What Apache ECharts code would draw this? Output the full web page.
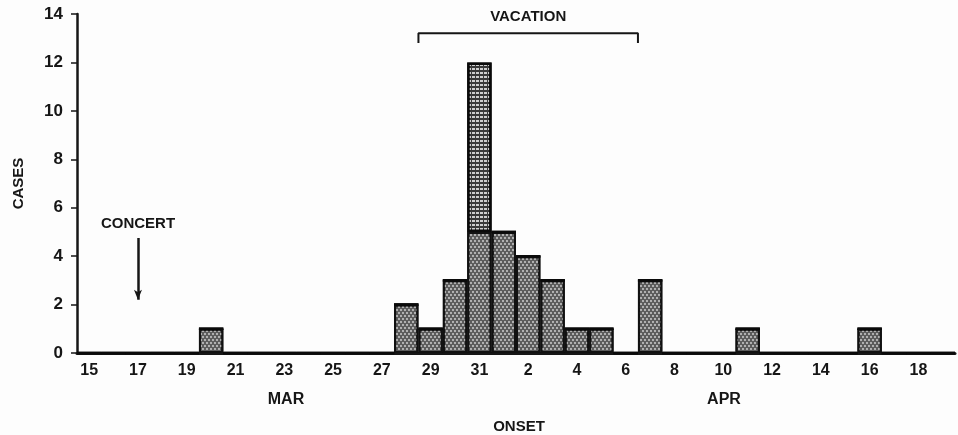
<!DOCTYPE html>
<html lang="en">

<head>
    <meta charset="UTF-8">
    <title>onset curve</title>
    <style>
        html, body { margin: 0; padding: 0; background: #fdfdfd; }
    </style>
</head>

<body>
    <div id="main" style="width:958px;height:435px;"></div>
</body>
<script src="https://cdn.jsdelivr.net/npm/echarts@6/dist/echarts.min.js"></script>
<script>
    // days of onset, Mar 15 - Apr 19
    var days = ['Mar 15', 'Mar 16', 'Mar 17', 'Mar 18', 'Mar 19', 'Mar 20', 'Mar 21', 'Mar 22', 'Mar 23',
        'Mar 24', 'Mar 25', 'Mar 26', 'Mar 27', 'Mar 28', 'Mar 29', 'Mar 30', 'Mar 31',
        'Apr 1', 'Apr 2', 'Apr 3', 'Apr 4', 'Apr 5', 'Apr 6', 'Apr 7', 'Apr 8', 'Apr 9', 'Apr 10',
        'Apr 11', 'Apr 12', 'Apr 13', 'Apr 14', 'Apr 15', 'Apr 16', 'Apr 17', 'Apr 18', 'Apr 19'];
    // cases per day (lower block)
    var cases = [0, 0, 0, 0, 0, 1, 0, 0, 0, 0, 0, 0, 0, 2, 1, 3, 5,
        5, 4, 3, 1, 1, 0, 3, 0, 0, 0, 1, 0, 0, 0, 0, 1, 0, 0, 0];
    // upper block of the Mar 31 column
    var peakCases = [0, 0, 0, 0, 0, 0, 0, 0, 0, 0, 0, 0, 0, 0, 0, 0, 7,
        0, 0, 0, 0, 0, 0, 0, 0, 0, 0, 0, 0, 0, 0, 0, 0, 0, 0, 0];
    var yTicks = [0, 2, 4, 6, 8, 10, 12, 14];

    var concertDay = 'Mar 17';
    var vacationFrom = 'Mar 29';
    var vacationTo = 'Apr 6';

    var font = 'Liberation Sans';
    var ink = '#161616';

    var vStart = days.indexOf(vacationFrom);
    var vEnd = days.indexOf(vacationTo) + 1;

    var myChart = echarts.init(document.getElementById('main'));
    var option = {
        animation: false,
        backgroundColor: '#fdfdfd',
        grid: { left: 77, right: 3, top: 14, bottom: 82 },
        xAxis: [{
            type: 'category',
            data: days,
            axisLine: { lineStyle: { color: ink, width: 3 } },
            axisTick: { interval: 0, length: 5, lineStyle: { color: ink, width: 2 } },
            axisLabel: {
                interval: 1,
                margin: 10,
                color: ink,
                fontFamily: font,
                fontWeight: 'bold',
                fontSize: 16,
                formatter: function (v) { return v.split(' ')[1]; }
            },
            splitLine: { show: false }
        }, {
            type: 'value',
            min: 0,
            max: days.length,
            show: false
        }],
        yAxis: {
            type: 'value',
            min: yTicks[0],
            max: yTicks[yTicks.length - 1],
            interval: 2,
            name: 'CASES',
            nameLocation: 'middle',
            nameRotate: 90,
            nameGap: 51,
            nameTextStyle: { color: ink, fontFamily: font, fontWeight: 'bold', fontSize: 15 },
            axisLine: { show: true, lineStyle: { color: ink, width: 2.5 } },
            axisTick: { show: true, length: 6, lineStyle: { color: ink, width: 1.5 } },
            axisLabel: { color: ink, fontFamily: font, fontWeight: 'bold', fontSize: 17, margin: 14 },
            splitLine: { show: false }
        },
        series: [{
            name: 'cases',
            type: 'bar',
            stack: 'day',
            data: cases,
            barCategoryGap: '0%',
            itemStyle: {
                color: '#5c5c5c',
                borderColor: '#111',
                borderWidth: 2,
                decal: {
                    symbol: 'circle',
                    symbolSize: 0.9,
                    dashArrayX: [[2, 2], [0, 2, 2, 0]],
                    dashArrayY: [2, 1],
                    color: '#d8d8d8'
                }
            },
            markLine: {
                silent: true,
                symbol: ['none', 'arrow'],
                symbolSize: [6, 10],
                lineStyle: { color: ink, width: 2.5, type: 'solid' },
                label: {
                    show: true,
                    position: 'start',
                    distance: 7,
                    formatter: 'CONCERT',
                    color: ink,
                    fontFamily: font,
                    fontWeight: 'bold',
                    fontSize: 15
                },
                data: [[{ coord: [concertDay, 4.75] }, { coord: [concertDay, 2.2] }]]
            }
        }, {
            name: 'peak',
            type: 'bar',
            stack: 'day',
            data: peakCases,
            barCategoryGap: '0%',
            itemStyle: {
                color: '#3a3a3a',
                borderColor: '#0a0a0a',
                borderWidth: 2.5,
                decal: {
                    symbol: 'rect',
                    symbolSize: 1,
                    dashArrayX: [3, 1],
                    dashArrayY: [2, 2],
                    color: '#cfcfcf'
                }
            }
        }, {
            name: 'vacation',
            type: 'line',
            xAxisIndex: 1,
            data: [[vStart, 12.8], [vStart, 13.2], [vEnd, 13.2], [vEnd, 12.8]],
            showSymbol: false,
            symbol: 'none',
            lineStyle: { color: ink, width: 2 },
            markPoint: {
                symbol: 'circle',
                symbolSize: 0,
                label: {
                    show: true,
                    position: 'top',
                    distance: 9,
                    formatter: 'VACATION',
                    color: ink,
                    fontFamily: font,
                    fontWeight: 'bold',
                    fontSize: 15
                },
                data: [{ coord: [(vStart + vEnd) / 2, 13.2] }]
            }
        }],
        graphic: [
            { type: 'text', x: 286, y: 400, style: { text: 'MAR', fill: ink, font: 'bold 16px ' + font, align: 'center', verticalAlign: 'middle' } },
            { type: 'text', x: 724, y: 400, style: { text: 'APR', fill: ink, font: 'bold 16px ' + font, align: 'center', verticalAlign: 'middle' } },
            { type: 'text', x: 519, y: 427, style: { text: 'ONSET', fill: ink, font: 'bold 15px ' + font, align: 'center', verticalAlign: 'middle' } }
        ]
    };
    myChart.setOption(option);
</script>

</html>
